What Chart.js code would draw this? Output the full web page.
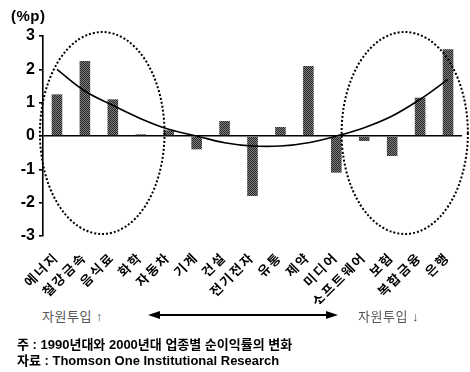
<!DOCTYPE html>
<html>
<head>
<meta charset="utf-8">
<script src="https://cdn.jsdelivr.net/npm/chart.js@4"></script>
<style>
  body { margin: 0; background: #fff; width: 470px; height: 372px; overflow: hidden; position: relative;
         font-family: "Liberation Sans", Arial, "Noto Sans CJK KR", sans-serif; }
  #wrap { position: absolute; left: 0; top: 0; width: 470px; height: 304px; }
  .t { position: absolute; white-space: nowrap; color: #000; }
  #unit { left: 11px; top: 7px; font-size: 15px; font-weight: bold; letter-spacing: 0.5px; }
  .res { top: 306px; font-size: 13px; color: #555; letter-spacing: 0.5px; }
  .note { font-size: 13px; font-weight: bold; left: 17px; }
</style>
</head>
<body>
<div id="wrap"><canvas id="myChart"></canvas></div>
<div class="t" id="unit">(%p)</div>
<div class="t res" style="left:42px">자원투입 ↑</div>
<svg style="position:absolute;left:0;top:0" width="470" height="372">
  <line x1="156" y1="315" x2="330" y2="315" stroke="#000" stroke-width="2"/>
  <polygon points="148,315 160,311 160,319" fill="#000"/>
  <polygon points="338,315 326,311 326,319" fill="#000"/>
</svg>
<div class="t res" style="left:358px">자원투입 ↓</div>
<div class="t note" style="top:334px">주 : 1990년대와 2000년대 업종별 순이익률의 변화</div>
<div class="t note" style="top:350px">자료 : Thomson One Institutional Research</div>
<script>
const labels = ["에너지", "철강금속", "음식료", "화학", "자동차", "기계", "건설", "전기전자",
                "유통", "제약", "미디어", "소프트웨어", "보험", "복합금융", "은행"]
const barValues = [1.25, 2.25, 1.1, 0.05, 0.17, -0.4, 0.45, -1.8, 0.27, 2.1, -1.1, -0.15, -0.6, 1.15, 2.6]
const trendValues = [2.0, 1.35, 0.92, 0.52, 0.2, 0.0, -0.2, -0.3, -0.3, -0.2, 0.0, 0.25, 0.6, 1.1, 1.7]
const yTicks = [-3, -2, -1, 0, 1, 2, 3]

// dithered grey like the scanned bars
function barPattern(){
    let c = document.createElement("canvas")
    c.width = 2; c.height = 2
    let g = c.getContext("2d")
    g.fillStyle = "#808080"; g.fillRect(0, 0, 2, 2)
    g.fillStyle = "#262626"; g.fillRect(0, 0, 1, 1); g.fillRect(1, 1, 1, 1)
    return g.createPattern(c, "repeat")
}

// dotted ellipses, given in category index / value units
const ellipses = [
    {cx: 1.62, rx: 2.23, cy: 0.09, ry: 3.03},
    {cx: 12.45, rx: 2.26, cy: 0.09, ry: 3.03}
]
const ellipsePlugin = {
    id: "ellipses",
    afterDatasetsDraw(chart){
        let ctx = chart.ctx, xs = chart.scales.x, ys = chart.scales.y
        ctx.save()
        ctx.strokeStyle = "#000"
        ctx.lineWidth = 2
        ctx.setLineDash([2, 2])
        for (const e of ellipses){
            let cx = xs.getPixelForValue(e.cx)
            let rx = Math.abs(xs.getPixelForValue(e.cx + e.rx) - cx)
            let cy = ys.getPixelForValue(e.cy)
            let ry = Math.abs(ys.getPixelForValue(e.cy + e.ry) - cy)
            ctx.beginPath()
            ctx.ellipse(cx, cy, rx, ry, 0, 0, Math.PI * 2)
            ctx.stroke()
        }
        ctx.restore()
    }
}

// wider letter spacing on the category labels only
const spacing = {
    id: "spacing",
    afterLayout(chart){
        let xs = chart.scales.x
        if (xs._spaced) return
        const orig = xs.drawLabels.bind(xs)
        xs.drawLabels = (area) => {
            chart.ctx.save()
            chart.ctx.letterSpacing = "2px"
            orig(area)
            chart.ctx.restore()
        }
        xs._spaced = true
    }
}

let htmlChart = document.getElementById("myChart")
let chart = new Chart(htmlChart, {
    type: "bar",
    data: {
        labels: labels,
        datasets: [
            {
                type: "line",
                label: "trend",
                data: trendValues,
                borderColor: "#000",
                borderWidth: 1.6,
                pointRadius: 0,
                tension: 0.4,
                order: 0
            },
            {
                label: "순이익률 변화",
                data: barValues,
                backgroundColor: barPattern(),
                borderWidth: 0,
                barPercentage: 0.38,
                categoryPercentage: 1,
                order: 1
            }
        ]
    },
    options: {
        responsive: true,
        maintainAspectRatio: false,
        animation: false,
        layout: { padding: { top: 36, right: 8, left: 0, bottom: 0 } },
        plugins: {
            legend: { display: false },
            tooltip: { enabled: false }
        },
        scales: {
            x: {
                grid: { display: false },
                border: { display: false },
                ticks: {
                    color: "#000",
                    maxRotation: 45,
                    minRotation: 45,
                    padding: 6,
                    autoSkip: false,
                    font: { size: 13, weight: "bold", family: "'Liberation Sans', Arial, 'Noto Sans CJK KR'" }
                },
                afterFit(scale){ scale.height = 68 }
            },
            y: {
                min: -3,
                max: 3,
                afterBuildTicks(scale){ scale.ticks = yTicks.map(v => ({value: v})) },
                grid: {
                    color: ctx => ctx.tick && ctx.tick.value === 0 ? "#000" : "rgba(0,0,0,0)",
                    lineWidth: 1.6,
                    drawTicks: true,
                    tickLength: 4,
                    tickColor: "#000"
                },
                border: { display: true, color: "#000", width: 1.6 },
                ticks: {
                    color: "#000",
                    padding: 4,
                    font: { size: 16, weight: "bold", family: "'Liberation Sans', Arial" }
                },
                afterFit(scale){ scale.width = 43 }
            }
        }
    },
    plugins: [ellipsePlugin, spacing]
})
</script>
</body>
</html>
